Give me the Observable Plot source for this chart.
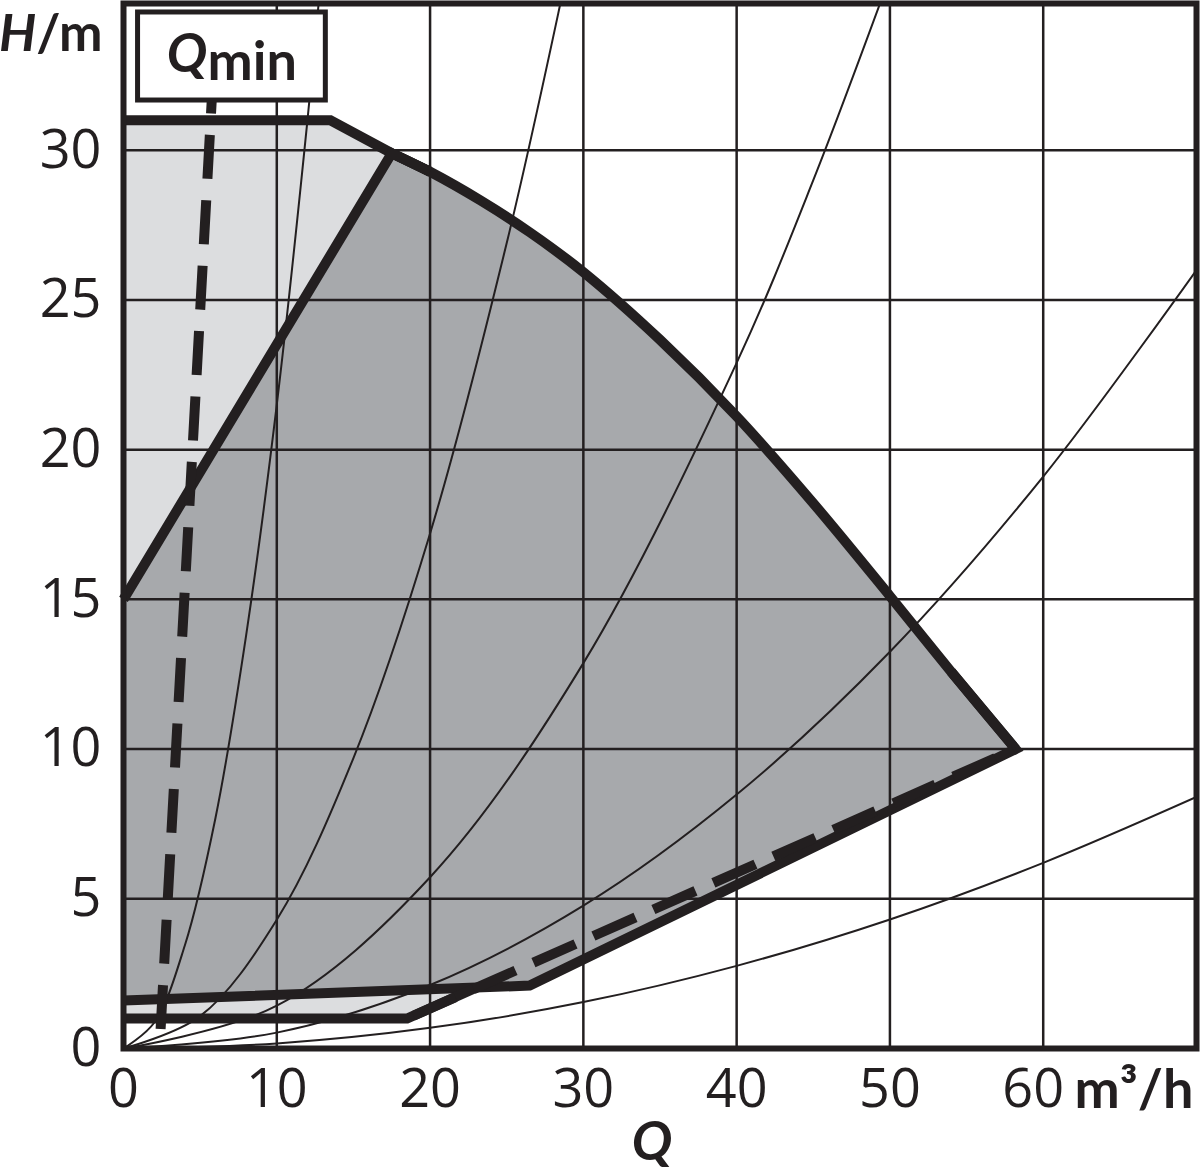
<!DOCTYPE html>
<html><head><meta charset="utf-8">
<script src="https://cdn.jsdelivr.net/npm/d3@7"></script>
<script src="https://cdn.jsdelivr.net/npm/@observablehq/plot@0.6"></script>
<style>
html,body{margin:0;padding:0;background:#fff;}
#chart svg{display:block;}
</style></head>
<body><div id="chart"></div>
<script>
// ---- data (Q in m³/h, H in m) ----
const xTicks = [0, 10, 20, 30, 40, 50];
const xTickLast = [60];
const yTicks = [0, 5, 10, 15, 20, 25, 30];
const xGrid = [10, 20, 30, 40, 50, 60];
const yGrid = [5, 10, 15, 20, 25, 30];

// upper limit (max head plateau)
const topQ = [0, 13.5];
const topH = [31, 31];
// max speed curve
const maxQ = [17.5, 20, 23.3, 26.5, 30, 35, 40, 45, 50, 54, 58.2];
const maxH = [29.9, 29.28, 28.32, 27.26, 25.93, 23.67, 21.11, 18.21, 15.11, 12.58, 10.0];
// left edge of dark field
const darkLeftQ = [0];
const darkLeftH = [15];
// lower edge of dark field
const darkLowQ = [26.5, 0];
const darkLowH = [2.1, 1.6];
// lower edge of light field
const lightLowQ = [18.5, 0];
const lightLowH = [1.0, 1.0];
// lower solid limit line
const lowLineQ = [0, 18.5, 23];
const lowLineH = [1.0, 1.0, 2.03];
// dashed lower limit line
const dashLowQ = [18.5, 58.2];
const dashLowH = [1.0, 10.0];
// Qmin dashed line
const qminQ = [2.42, 5.9];
const qminH = [0.65, 33];

// system curves
const sysCurves = [
  {name: "a", Q: [0, 2, 4, 6, 8, 10, 12, 13.2], H: [0, 0.86, 3.44, 7.7, 13.8, 21.5, 31.0, 37.5]},
  {name: "b", Q: [0, 5, 10, 15, 20, 25, 28.5, 29.5], H: [0, 1.08, 4.3, 9.7, 17.2, 26.9, 34.9, 37.4]},
  {name: "c", Q: [0, 10, 20, 30, 40, 45, 50.5], H: [0, 1.43, 5.72, 12.87, 22.9, 29.0, 36.5]},
  {name: "d", Q: [0, 10, 20, 30, 40, 50, 60, 70], H: [0, 0.53, 2.12, 4.77, 8.48, 13.25, 19.1, 26.0]},
  {name: "e", Q: [0, 10, 20, 30, 40, 50, 60, 70], H: [0, 0.17, 0.69, 1.55, 2.76, 4.31, 6.2, 8.4]}
];

// Qmin label box (annotation)
const qminBox = [{x1: 0.95, x2: 13.2, y1: 31.66, y2: 34.6, lx: 7.07, ly: 32.6, label: "Qmin"}];

// ---- build ----
const ink = "#231f20";
const lightFill = "#dcdddf";
const darkFill = "#a7a9ac";
const labelFont = "Lato, 'Open Sans', sans-serif";
const pts = (qs, hs) => qs.map((q, i) => ({q, h: hs[i]}));

const maxPts = pts(maxQ, maxH);
const lightPoly = [...pts(topQ, topH), ...maxPts, ...pts(lightLowQ, lightLowH)];
const darkPoly = [...pts(darkLeftQ, darkLeftH), ...maxPts, ...pts(darkLowQ, darkLowH)];
const topPath = [...pts(topQ, topH), ...maxPts.slice(0, 2)];
const tipPath = [...maxPts.slice(-2), ...pts(darkLowQ, darkLowH)];
const leftEdge = [...pts(darkLeftQ, darkLeftH), maxPts[0], maxPts[1]];
const sysPts = sysCurves.flatMap(c => c.Q.map((q, i) => ({name: c.name, q, h: c.H[i]})));

const thick = {stroke: ink, strokeWidth: 10, strokeLinejoin: "miter", strokeMiterlimit: 10, strokeLinecap: "butt"};

const chart = Plot.plot({
  width: 1200,
  height: 1173,
  marginLeft: 123,
  marginRight: 4,
  marginTop: 3,
  marginBottom: 125,
  x: {domain: [0, 70], label: null},
  y: {domain: [0, 34.9], label: null},
  style: {fontFamily: "'Open Sans', 'Noto Sans', sans-serif", fontSize: "54px", color: ink, background: "white", overflow: "visible"},
  marks: [
    Plot.line(lightPoly, {x: "q", y: "h", fill: lightFill, stroke: "none", curve: "linear-closed"}),
    Plot.line(darkPoly, {x: "q", y: "h", fill: darkFill, stroke: "none", curve: "linear-closed"}),
    Plot.gridX(xGrid, {stroke: ink, strokeOpacity: 1, strokeWidth: 2.5}),
    Plot.gridY(yGrid, {stroke: ink, strokeOpacity: 1, strokeWidth: 2.5}),
    Plot.line(sysPts, {x: "q", y: "h", z: "name", stroke: ink, strokeWidth: 2, curve: "catmull-rom", clip: true}),
    Plot.line(maxPts, {x: "q", y: "h", ...thick, curve: "catmull-rom"}),
    Plot.line(topPath, {x: "q", y: "h", ...thick}),
    Plot.line(tipPath, {x: "q", y: "h", ...thick}),
    Plot.line(leftEdge, {x: "q", y: "h", ...thick}),
    Plot.line(pts(lowLineQ, lowLineH), {x: "q", y: "h", ...thick}),
    Plot.line(pts(dashLowQ, dashLowH), {x: "q", y: "h", ...thick, strokeDasharray: "46,19.6", strokeDashoffset: 58.6}),
    Plot.line(pts(qminQ, qminH), {x: "q", y: "h", ...thick, strokeDasharray: "44,21.5", strokeDashoffset: 0}),
    Plot.frame({stroke: ink, strokeWidth: 6}),
    Plot.rect(qminBox, {x1: "x1", x2: "x2", y1: "y1", y2: "y2", fill: "white", stroke: ink, strokeWidth: 5}),
    Plot.text(qminBox, {x: "lx", y: "ly", text: "label", textAnchor: "middle", lineAnchor: "bottom", fontFamily: labelFont, fontWeight: "bold", fontSize: 54, fill: ink}),
    Plot.axisX(xTicks, {tickSize: 0, tickPadding: 20, fontSize: 54}),
    Plot.axisX(xTickLast, {tickSize: 0, tickPadding: 20, fontSize: 54, dx: -10}),
    Plot.axisY(yTicks, {tickSize: 0, tickPadding: 22, fontSize: 54}),
    Plot.text(["m³/h"], {frameAnchor: "bottom-right", text: d => d, textAnchor: "end", lineAnchor: "bottom", dx: -3, dy: 59, fontFamily: labelFont, fontWeight: "bold", fontSize: 54, fill: ink}),
    Plot.text(["Q"], {frameAnchor: "bottom", text: d => d, textAnchor: "middle", lineAnchor: "bottom", dx: -8, dy: 111, fontFamily: labelFont, fontWeight: "bold", fontStyle: "italic", fontSize: 54, fill: ink}),
    Plot.text(["H/m"], {frameAnchor: "top-left", text: d => d, textAnchor: "end", lineAnchor: "bottom", dx: -21, dy: 47, fontFamily: labelFont, fontWeight: "bold", fontSize: 52, fill: ink})
  ]
});

// rich text: italic Q / H, lowered "min"
chart.querySelectorAll("text").forEach(t => {
  if (t.textContent === "Qmin") {
    t.innerHTML = '<tspan font-style="italic">Q</tspan><tspan dy="8">min</tspan>';
  } else if (t.textContent === "H/m") {
    t.innerHTML = '<tspan font-style="italic">H</tspan>/m';
  }
});

document.getElementById("chart").appendChild(chart);
</script></body></html>
